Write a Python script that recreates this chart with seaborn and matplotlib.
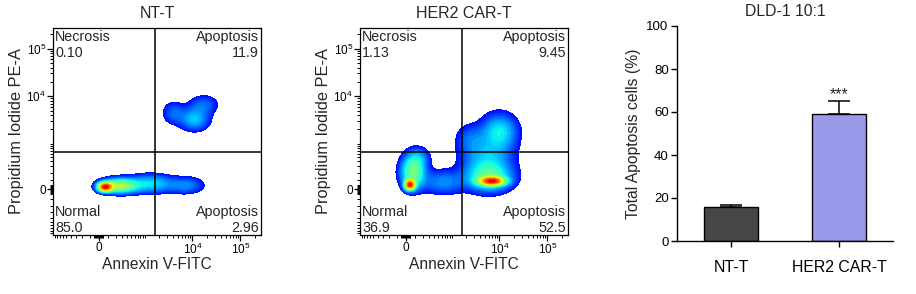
import numpy as np
import pandas as pd
import matplotlib
matplotlib.use("Agg")
import matplotlib.pyplot as plt
from matplotlib.colors import LinearSegmentedColormap
from matplotlib.ticker import FixedLocator
import seaborn as sns

sns.set_theme(style="ticks")
plt.rcParams['font.family'] = ['Liberation Sans', 'DejaVu Sans']
plt.rcParams['mathtext.fontset'] = 'custom'
plt.rcParams['mathtext.rm'] = 'Liberation Sans'
plt.rcParams['mathtext.it'] = 'Liberation Sans:italic'

# ---------------- data ----------------
flow_titles = ["NT-T", "HER2 CAR-T"]
quad_names = ["Necrosis", "Apoptosis", "Normal", "Apoptosis"]
nt_quad_values = ["0.10", "11.9", "85.0", "2.96"]
car_quad_values = ["1.13", "9.45", "36.9", "52.5"]

# density populations (channel units 0-1000 on both axes)
nt_cx = [250, 320, 470, 640, 680, 580, 725]
nt_cy = [232, 238, 248, 240, 560, 590, 630]
nt_sx = [22, 55, 70, 55, 45, 35, 45]
nt_sy = [14, 22, 28, 26, 35, 35, 30]
nt_w = [1.0, 0.55, 0.25, 0.15, 0.22, 0.12, 0.12]

car_cx = [240, 255, 280, 400, 635, 620, 610, 670, 530]
car_cy = [242, 305, 375, 255, 260, 280, 380, 500, 470]
car_sx = [16, 38, 35, 70, 40, 70, 80, 55, 45]
car_sy = [16, 50, 32, 38, 13, 45, 60, 55, 45]
car_w = [1.0, 0.45, 0.13, 0.16, 0.9, 0.38, 0.2, 0.27, 0.10]

gate_x = 490
gate_y = 400

major_tick_values = [0, 1e4, 1e5]
major_tick_labels = ["0", r"$\mathregular{10^4}$", r"$\mathregular{10^5}$"]

bar_groups = ["NT-T", "HER2 CAR-T"]
bar_means = [15.7, 59.3]
bar_sd = [0.9, 5.8]
bar_colors = ["#474747", "#9b99e9"]
bar_title = "DLD-1 10:1"
bar_ylabel = "Total Apoptosis cells (%)"
sig_label = "***"

# ---------------- helpers ----------------
def logicle_ch(v):
    return 220 + 100 * np.arcsinh(np.asarray(v, dtype=float) / 221.0)

minor_vals = []
for m in range(1, 6):
    minor_vals += [m * 10, -m * 10]
for dec in [100, 1000]:
    for m in range(1, 10):
        minor_vals += [m * dec, -m * dec]
for m in range(2, 10):
    minor_vals.append(m * 1e4)
minor_vals += [2e5]
minor_ch = [c for c in logicle_ch(minor_vals) if 0 <= c <= 1000]

jet_part = LinearSegmentedColormap.from_list(
    "jetpart", plt.cm.jet(np.linspace(0.13, 0.92, 256)))

gx = np.linspace(0, 1000, 400)
gy = np.linspace(0, 1000, 400)
GX, GY = np.meshgrid(gx, gy)

def density(cx, cy, sx, sy, w):
    Z = np.zeros_like(GX)
    for a, b, c, d, e in zip(cx, cy, sx, sy, w):
        Z += e * np.exp(-0.5 * (((GX - a) / c) ** 2 + ((GY - b) / d) ** 2))
    return Z / Z.max()

fig = plt.figure(figsize=(9.16, 2.94), dpi=100)
ax1 = fig.add_axes([53/916, 1-235/294, 208/916, 207/294])
ax2 = fig.add_axes([360/916, 1-235/294, 208/916, 207/294])
ax3 = fig.add_axes([677/916, 1-241/294, 216/916, 215/294])

flow_sets = [
    (ax1, (nt_cx, nt_cy, nt_sx, nt_sy, nt_w), nt_quad_values),
    (ax2, (car_cx, car_cy, car_sx, car_sy, car_w), car_quad_values),
]

thresh = 0.035
gamma = 0.65
for (ax, params, qvals), title in zip(flow_sets, flow_titles):
    Z = density(*params) ** gamma
    t = thresh ** gamma
    levels = np.linspace(t, 1.0001, 40)
    ax.contourf(GX, GY, Z, levels=levels, cmap=jet_part, vmin=t, vmax=1)
    ax.axvline(gate_x, color="black", lw=1.1)
    ax.axhline(gate_y, color="black", lw=1.1)
    ax.set_xlim(0, 1000)
    ax.set_ylim(0, 1000)
    ax.xaxis.set_major_locator(FixedLocator(list(logicle_ch(major_tick_values))))
    ax.yaxis.set_major_locator(FixedLocator(list(logicle_ch(major_tick_values))))
    ax.set_xticklabels(major_tick_labels)
    ax.set_yticklabels(major_tick_labels)
    ax.xaxis.set_minor_locator(FixedLocator(minor_ch))
    ax.yaxis.set_minor_locator(FixedLocator(minor_ch))
    ax.tick_params(which="major", direction="out", length=4, width=0.9,
                   labelsize=8.5, pad=1, colors="black")
    ax.tick_params(which="minor", direction="out", length=2.2, width=0.7,
                   colors="black")
    for s in ax.spines.values():
        s.set_visible(True)
        s.set_color("black")
        s.set_linewidth(0.9)
    ax.set_title(title, fontsize=11.5, pad=7)
    ax.set_xlabel("Annexin V-FITC", fontsize=11.2, labelpad=0)
    ax.set_ylabel("Propidium Iodide PE-A", fontsize=11.8, labelpad=2)
    tkw = dict(transform=ax.transAxes, fontsize=10.3, linespacing=1.15)
    ax.text(0.01, 0.99, f"{quad_names[0]}\n{qvals[0]}", ha="left", va="top", **tkw)
    ax.text(0.99, 0.99, f"{quad_names[1]}\n{qvals[1]}", ha="right", va="top", **tkw)
    ax.text(0.01, 0.0, f"{quad_names[2]}\n{qvals[2]}", ha="left", va="bottom", **tkw)
    ax.text(0.99, 0.0, f"{quad_names[3]}\n{qvals[3]}", ha="right", va="bottom", **tkw)

# ---------------- bar chart ----------------
df = pd.DataFrame({"group": bar_groups, "value": bar_means})
sns.barplot(data=df, x="group", y="value", hue="group", palette=bar_colors,
            saturation=1, edgecolor="black", linewidth=1.0, width=0.5,
            errorbar=None, legend=False, ax=ax3)
ax3.errorbar(x=np.arange(len(bar_groups)), y=bar_means,
             yerr=[np.zeros(len(bar_sd)), bar_sd], fmt="none",
             ecolor="black", elinewidth=1.1, capsize=8, capthick=1.1, zorder=5)
ax3.text(1, bar_means[1] + bar_sd[1] + 0.8, sig_label, ha="center",
         va="baseline", fontsize=11.5)
ax3.set_xlim(-0.5, 1.5)
ax3.set_ylim(0, 100)
ax3.set_yticks([0, 20, 40, 60, 80, 100])
ax3.set_xlabel("")
ax3.set_ylabel(bar_ylabel, fontsize=11.3, labelpad=4)
ax3.set_title(bar_title, fontsize=11.3, pad=7)
ax3.tick_params(axis="y", labelsize=9.5, length=4, width=1, pad=2, colors="black")
ax3.tick_params(axis="x", labelsize=11.4, length=4, width=1, pad=10, colors="black")
sns.despine(ax=ax3)
for s in ["left", "bottom"]:
    ax3.spines[s].set_color("black")
    ax3.spines[s].set_linewidth(1.0)

fig.savefig("out.png", dpi=100)
